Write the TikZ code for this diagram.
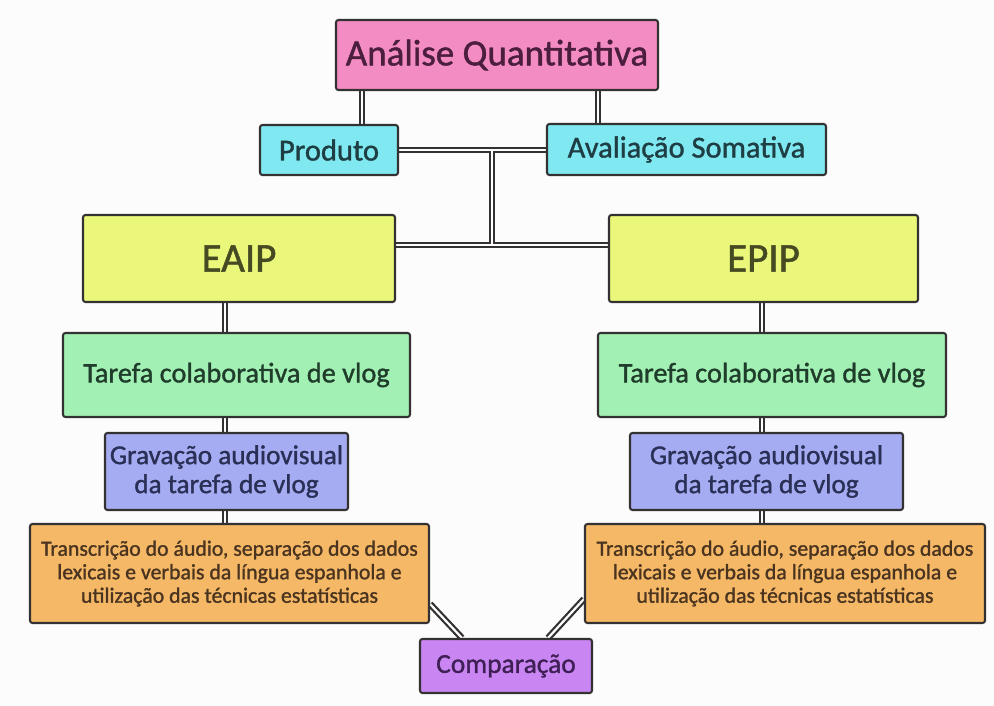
\documentclass[tikz,border=0pt]{standalone}
\usepackage{fontspec}
\setmainfont{Carlito}[FakeBold=1.2]
\usetikzlibrary{calc,backgrounds}

\definecolor{bgc}{HTML}{FDFCFD}
\definecolor{boxline}{HTML}{333131}
\definecolor{pinkc}{HTML}{F48CC4}
\definecolor{pinkt}{HTML}{4A1E3C}
\definecolor{cyanc}{HTML}{80E8F0}
\definecolor{cyant}{HTML}{1E3E44}
\definecolor{yelc}{HTML}{EBF77B}
\definecolor{yelt}{HTML}{464A22}
\definecolor{grnc}{HTML}{A3F0B5}
\definecolor{grnt}{HTML}{1F3D2A}
\definecolor{lavc}{HTML}{A6ACF2}
\definecolor{lavt}{HTML}{2A2F55}
\definecolor{orgc}{HTML}{F5B866}
\definecolor{orgt}{HTML}{4A3420}
\definecolor{purc}{HTML}{C986F2}
\definecolor{purt}{HTML}{3F1F55}

\newcommand\linkpaths{%
  \draw (a1) -- (a2);
  \draw (b1) -- (b2);
  \draw (prod.east) -- (prod.east -| aval.west);
  \draw (j1) -- (j2);
  \draw (h1) -- (h2);
  \draw (l1) -- (l1 |- tarL.north);
  \draw (l1 |- tarL.south) -- (l1 |- gravL.north);
  \draw (l1 |- gravL.south) -- (l1 |- transL.north);
  \draw (r1) -- (r1 |- tarR.north);
  \draw (r1 |- tarR.south) -- (r1 |- gravR.north);
  \draw (r1 |- gravR.south) -- (r1 |- transR.north);
  \draw (d1) -- (d2);
  \draw (e1) -- (e2);
}

\begin{document}
\begin{tikzpicture}[x=1pt,y=-1pt,
  box/.style={draw=boxline, line width=2.1pt, rounded corners=2.5pt,
    align=center, inner sep=0pt},
  linkouter/.style={draw=boxline, line width=6.6pt},
  linkinner/.style={draw=white, line width=2.2pt}]

\useasboundingbox (0,0) rectangle (994,706);

% boxes
\node[box, fill=pinkc, text=pinkt, minimum width=322pt, minimum height=70pt,
  font=\fontsize{37}{40}\selectfont] (ana) at (497,55) {Análise Quantitativa};
\node[box, fill=cyanc, text=cyant, minimum width=138pt, minimum height=50pt,
  font=\fontsize{30.5}{33}\selectfont] (prod) at (329,150) {Produto};
\node[box, fill=cyanc, text=cyant, minimum width=279pt, minimum height=51pt,
  font=\fontsize{30.5}{33}\selectfont] (aval) at (686.5,149.5) {Avaliação Somativa};

\node[box, fill=yelc, text=yelt, minimum width=312pt, minimum height=87pt,
  font=\fontsize{41}{44}\selectfont] (eaip) at (239,258.5) {EAIP};
\node[box, fill=yelc, text=yelt, minimum width=309pt, minimum height=87pt,
  font=\fontsize{41}{44}\selectfont] (epip) at (763.5,258.5) {EPIP};

\node[box, fill=grnc, text=grnt, minimum width=347pt, minimum height=84pt,
  font=\fontsize{28.3}{31}\selectfont] (tarL) at (236.5,375) {Tarefa colaborativa de vlog};
\node[box, fill=grnc, text=grnt, minimum width=348pt, minimum height=84pt,
  font=\fontsize{28.3}{31}\selectfont] (tarR) at (772,375) {Tarefa colaborativa de vlog};

\node[box, fill=lavc, text=lavt, minimum width=243pt, minimum height=77pt,
  font=\fontsize{27.2}{29}\selectfont] (gravL) at (226.5,471.5) {Gravação audiovisual\\da tarefa de vlog};
\node[box, fill=lavc, text=lavt, minimum width=273pt, minimum height=77pt,
  font=\fontsize{27.2}{29}\selectfont] (gravR) at (766.5,471.5) {Gravação audiovisual\\da tarefa de vlog};

\node[box, fill=orgc, text=orgt, minimum width=399pt, minimum height=99pt,
  font=\fontsize{21.8}{23.5}\selectfont] (transL) at (229.5,573.5)
  {Transcrição do áudio, separação dos dados\\lexicais e verbais da língua espanhola e\\utilização das técnicas estatísticas};
\node[box, fill=orgc, text=orgt, minimum width=400pt, minimum height=99pt,
  font=\fontsize{21.8}{23.5}\selectfont] (transR) at (785,573.5)
  {Transcrição do áudio, separação dos dados\\lexicais e verbais da língua espanhola e\\utilização das técnicas estatísticas};

\node[box, fill=purc, text=purt, minimum width=172pt, minimum height=54pt,
  font=\fontsize{27.4}{30}\selectfont] (comp) at (506,666) {Comparação};

% connector end points
\coordinate (a1) at ($(prod.north)+(33,0)$);
\coordinate (a2) at (a1 |- ana.south);
\coordinate (b1) at ($(aval.north)+(-88.5,0)$);
\coordinate (b2) at (b1 |- ana.south);
\coordinate (j1) at ($(prod.east)+(93,0)$);
\coordinate (h1) at ($(eaip.east)+(0,-13.5)$);
\coordinate (h2) at (h1 -| epip.west);
\coordinate (j2) at (j1 |- h1);
\coordinate (l1) at ($(eaip.south)+(-14,0)$);
\coordinate (r1) at ($(epip.south)+(-1.5,0)$);
\coordinate (d1) at ($(transL.south east)+(0,-20)$);
\coordinate (d2) at ($(comp.north west)+(43,0)$);
\coordinate (e1) at ($(transR.south west)+(0,-25)$);
\coordinate (e2) at ($(comp.north east)+(-45,0)$);

% double-rule connectors, drawn beneath the boxes
\begin{pgfonlayer}{background}
  \fill[bgc] (0,0) rectangle (994,706);
  \begin{scope}[linkouter]\linkpaths\end{scope}
  \begin{scope}[linkinner]\linkpaths\end{scope}
\end{pgfonlayer}
\end{tikzpicture}
\end{document}
